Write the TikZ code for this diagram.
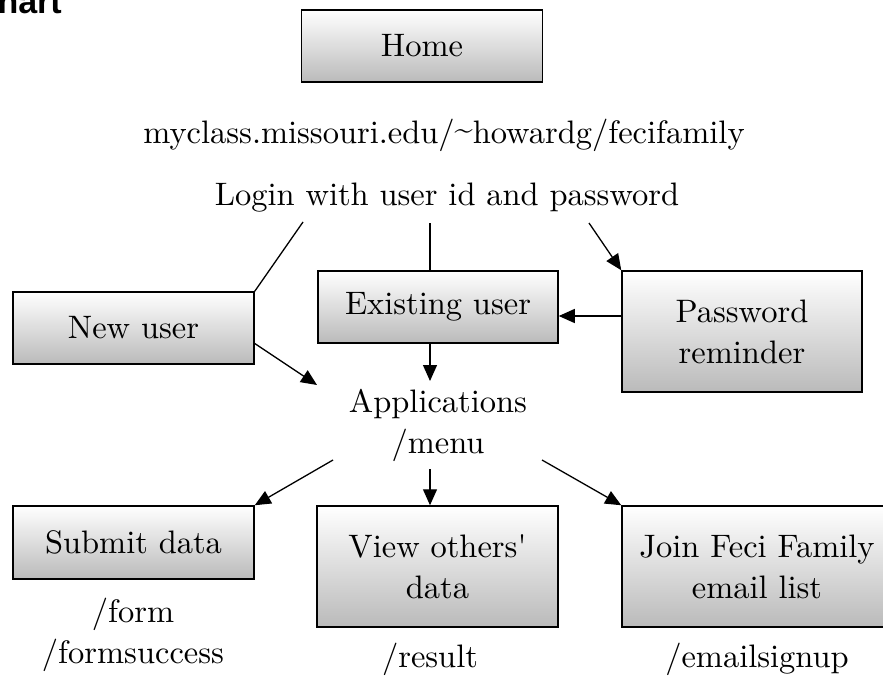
\documentclass[tikz,border=0pt]{standalone}
\usepackage{fontspec}
\setmainfont{lmroman10-regular.otf}
\newfontfamily\hdfont{Liberation Sans}
\usetikzlibrary{arrows.meta}
\begin{document}
\begin{tikzpicture}[x=1pt,y=-1pt,
  box/.style={draw=black, line width=1.5pt, top color=white, bottom color=black!27,
    inner sep=0pt, align=center, font=\fontsize{32.5}{41}\selectfont},
  lbl/.style={inner sep=0pt, align=center, font=\fontsize{32.5}{41}\selectfont},
  conn/.style={line width=1.3pt},
  arr/.style={conn, -{Triangle[length=16pt,width=14pt]}}]
\useasboundingbox (0,0) rectangle (883,677);
\clip (0,0) rectangle (883,677);

\node[inner sep=0pt, anchor=base east, font=\hdfont\bfseries\fontsize{34}{40}\selectfont] (title) at (62,14) {hart};

% boxes
\node[box, minimum width=241pt, minimum height=72pt] (home) at (422,46) {Home};
\node[box, minimum width=241pt, minimum height=72pt] (new) at (133.5,328) {New user};
\node[box, minimum width=240pt, minimum height=72pt] (exist) at (438,307) {Existing user};
\node[box, minimum width=240pt, minimum height=121pt] (pw) at (742,331.5) {Password\\reminder};
\node[box, minimum width=241pt, minimum height=73pt] (submit) at (133.5,542.5) {Submit data};
\node[box, minimum width=241pt, minimum height=121pt] (view) at (437.5,566.5) {View others\textquotesingle\\data};
\node[box, minimum width=270pt, minimum height=121pt] (join) at (757,566.5) {Join Feci Family\\email list};

% text labels
\node[lbl, anchor=base] (url) at (444,143) {myclass.missouri.edu/\raisebox{0.1em}{\char`\~}howardg/fecifamily};
\node[lbl, anchor=base] (login) at (447,205) {Login with user id and password};
\node[lbl] (app) at (438,425) {Applications\\/menu};
\node[lbl] (form) at (133,634.5) {/form\\/formsuccess};
\node[lbl, anchor=base] (result) at (430,667) {/result};
\node[lbl, anchor=base] (email) at (757,667) {/emailsignup};

% connector end points
\coordinate (l1) at (303,222);
\coordinate (l2) at (430,223);
\coordinate (l3) at (589,223);
\coordinate (p316) at (0,316);
\coordinate (n1) at (254,343);
\coordinate (n2) at (317,385);
\coordinate (e2) at (430,381);
\coordinate (a1) at (333,460);
\coordinate (a2) at (430,469);
\coordinate (a3) at (542,460);

\draw[conn] (l1) -- (new.north east);
\draw[conn] (l2) -- (exist.north -| l2);
\draw[arr] (l3) -- (pw.north west);
\draw[arr] (pw.west |- p316) -- (exist.east |- p316);
\draw[arr] (n1) -- (n2);
\draw[arr] (exist.south -| e2) -- (e2);
\draw[arr] (a1) -- (submit.north east);
\draw[arr] (a2) -- (view.north -| a2);
\draw[arr] (a3) -- (join.north west);
\end{tikzpicture}
\end{document}
